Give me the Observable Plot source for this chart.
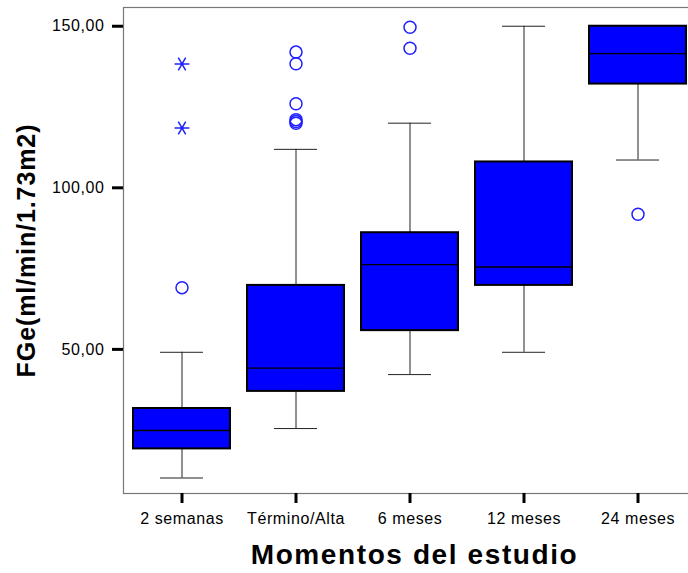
<!DOCTYPE html>
<html>
<head>
<meta charset="utf-8">
<script src="https://cdn.jsdelivr.net/npm/d3@7"></script>
<script src="https://cdn.jsdelivr.net/npm/@observablehq/plot@0.6"></script>
<style>
  html, body { margin: 0; padding: 0; background: #fff; overflow: hidden; }
  g[aria-label="x-axis tick label"] text,
  g[aria-label="y-axis tick label"] text { letter-spacing: 0.6px; }
</style>
</head>
<body>
<div id="chart"></div>
<script>
// Study moments (x categories)
const moments = ["2 semanas", "Término/Alta", "6 meses", "12 meses", "24 meses"];

// Box-plot summaries of FGe (ml/min/1.73m2) per moment
const whiskerLow  = [10.2, 25.5, 42.2, 49.1, 108.6];
const quartile1   = [19.2, 37.0, 55.8, 69.8, 132.1];
const medians     = [24.9, 44.2, 76.2, 75.5, 141.5];
const quartile3   = [31.7, 69.8, 86.1, 108.0, 150.0];
const whiskerHigh = [49.1, 111.9, 120.0, 150.0, 150.0];

// Outliers (circles) and extreme values (stars)
const outlierMoment = ["2 semanas", "Término/Alta", "Término/Alta", "Término/Alta", "Término/Alta", "Término/Alta", "Término/Alta", "6 meses", "6 meses", "24 meses"];
const outlierValue  = [69.1, 142.0, 138.4, 126.0, 121.1, 120.5, 120.0, 149.7, 143.2, 91.8];
const extremeMoment = ["2 semanas", "2 semanas"];
const extremeValue  = [138.3, 118.5];

// Axis ticks and titles
const yTicks = [50, 100, 150];
const xTitle = "Momentos del estudio";
const yTitle = "FGe(ml/min/1.73m2)";

const boxes = moments.map((m, i) => ({
  moment: m, lo: whiskerLow[i], q1: quartile1[i], med: medians[i], q3: quartile3[i], hi: whiskerHigh[i]
}));
const outliers = outlierMoment.map((m, i) => ({moment: m, value: outlierValue[i]}));
const extremes = extremeMoment.map((m, i) => ({moment: m, value: extremeValue[i]}));

const font = "'Liberation Sans', Arial, sans-serif";
const blue = "#0000ff";

const chart = Plot.plot({
  width: 695,
  height: 573,
  marginLeft: 123,
  marginRight: 0,
  marginTop: 7,
  marginBottom: 80,
  style: "max-width:none; background:#fff; font-family:" + font + ";",
  x: {domain: moments, paddingInner: 0.15, paddingOuter: 0.075},
  y: {domain: [5.4, 155.8]},
  marks: [
    Plot.frame({stroke: "#777", strokeWidth: 1.2}),
    // whiskers
    Plot.ruleX(boxes, {x: "moment", y1: "q3", y2: "hi", stroke: "#222", strokeWidth: 1}),
    Plot.ruleX(boxes, {x: "moment", y1: "lo", y2: "q1", stroke: "#222", strokeWidth: 1}),
    Plot.tickY(boxes, {x: "moment", y: "hi", stroke: "#222", strokeWidth: 1, insetLeft: 27, insetRight: 27}),
    Plot.tickY(boxes, {x: "moment", y: "lo", stroke: "#222", strokeWidth: 1, insetLeft: 27, insetRight: 27}),
    // boxes
    Plot.barY(boxes, {x: "moment", y1: "q1", y2: "q3", fill: blue, stroke: "#000", strokeWidth: 2}),
    Plot.tickY(boxes, {x: "moment", y: "med", stroke: "#000", strokeWidth: 1.3}),
    // outliers and extremes
    Plot.dot(outliers, {x: "moment", y: "value", r: 6, stroke: "#1f1fff", strokeWidth: 1.5, fill: "none"}),
    Plot.dot(extremes, {x: "moment", y: "value", symbol: "asterisk", r: 7, rotate: 90, stroke: "#1f1fff", strokeWidth: 1.5}),
    // axes
    Plot.axisY({
      ticks: yTicks, tickSize: 11, tickPadding: 8, strokeWidth: 3, stroke: "#000",
      tickFormat: d => d.toFixed(2).replace(".", ","), fontSize: 16, label: null
    }),
    Plot.axisX({
      tickSize: 10, tickPadding: 9, strokeWidth: 3, stroke: "#000", fontSize: 16, label: null
    }),
    // axis titles
    Plot.text([xTitle], {
      frameAnchor: "bottom", dx: 5, dy: 70, fontSize: 28, fontWeight: "bold", fill: "#000", textAnchor: "middle"
    }),
    Plot.text([yTitle], {
      frameAnchor: "left", dx: -97, rotate: -90, fontSize: 25, fontWeight: "bold", fill: "#000", textAnchor: "middle"
    })
  ]
});

// wider tracking on the two axis titles
chart.querySelectorAll("text").forEach(t => {
  if (t.textContent === xTitle) t.style.letterSpacing = "1.6px";
  if (t.textContent === yTitle) t.style.letterSpacing = "0.9px";
});

document.getElementById("chart").append(chart);
</script>
</body>
</html>
